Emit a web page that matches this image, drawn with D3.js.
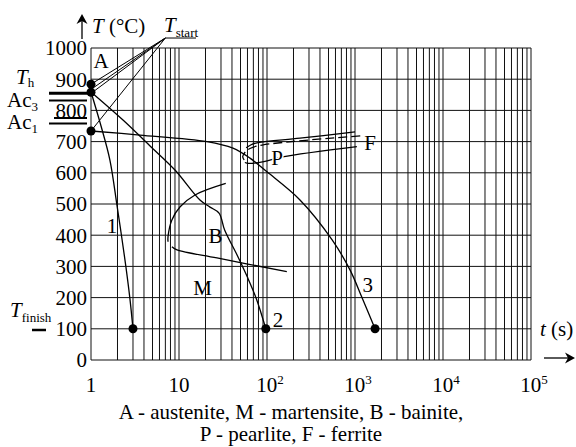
<!DOCTYPE html>
<html><head><meta charset="utf-8">
<script src="https://cdn.jsdelivr.net/npm/d3@7"></script>
<style>
body{margin:0;background:#fff}
svg{display:block}
text{font-family:"Liberation Serif","Times New Roman",serif;fill:#000}
</style>
</head><body>
<svg id="chart" width="576" height="447"></svg>
<script>
// CCT diagram: time t (s, log scale) vs temperature T (°C)
const tTicks = [1, 10, 100, 1000, 10000, 100000];
const tTickExp = ["", "", "2", "3", "4", "5"];
const tempTicks = [0, 100, 200, 300, 400, 500, 600, 700, 800, 900, 1000];

// cooling curves [t, T]
const curve1 = [[1,859],[1.3,750],[1.64,641],[1.97,497],[2.23,395],[2.5,296],[2.77,196],[3.0,100]];
const curve2 = [[1,859],[2.31,769],[4.69,686],[9.0,609],[17.3,513],[22.5,490],[28.5,471],[33,417],[46,335],[60,265],[76,195],[97,100]];
const curve3 = [[1,734],[3.6,721],[20.8,700],[41,679],[64,647],[100,603],[237,513],[550,385],[880,288],[1200,200],[1690,100]];

// transformation lines
const bainiteStart = [[34,566],[15.2,529],[10.3,491],[8.3,449],[7.5,395],[7.5,379]];
const martensiteLine = [[8.3,363],[9.5,353],[27,327],[168,283]];
const pearliteStart = [[58,680],[66,690],[79,697],[237,711],[1000,731]];
const ferriteStart = [[55,641],[53,652],[56,665],[64,678],[88,689],[1230,719]];
const pearliteFinish = [[56,633],[62,630],[92,636],[150,651],[1050,684]];

// start / finish points
const dots = [[1,884],[1,858],[1,734],[3,100],[97,100],[1690,100]];
// leader lines from the T_start label
const leaderFrom = [7.0, 1032];
const leaderTo = [[1,884],[1.02,869],[1.04,858],[1,734]];
// reference temperature marks at the left of the axis
const refMarks = [{T:855, w:3}, {T:832, w:2}, {T:776, w:2}, {T:758, w:2}];

// region and curve labels [text, t, T]
const regionLabels = [["A",1.3,936],["1",1.73,407],["B",26,375],["M",18.5,208],["P",130,625],["F",1480,673],["2",133,106],["3",1400,218]];

const captionLines = ["A - austenite, M - martensite, B - bainite,", "P - pearlite, F - ferrite"];

const svg = d3.select("#chart");
const x = d3.scaleLog().domain([1, 1e5]).range([91, 531]);
const y = d3.scaleLinear().domain([0, 1000]).range([360, 48]);

// grid
const g = svg.append("g");
g.selectAll("line.v").data(x.ticks()).join("line")
  .attr("x1", d => x(d)).attr("x2", d => x(d))
  .attr("y1", y(0)).attr("y2", y(1000))
  .attr("stroke", "#111").attr("stroke-width", 1);
g.selectAll("line.h").data(tempTicks).join("line")
  .attr("x1", x(1)).attr("x2", x(1e5))
  .attr("y1", d => y(d)).attr("y2", d => y(d))
  .attr("stroke", "#111").attr("stroke-width", 1);

// axes tick labels
svg.append("g").selectAll("text").data(tempTicks).join("text")
  .attr("x", 87).attr("y", d => y(d)).attr("dy", "0.35em")
  .attr("text-anchor", "end").attr("font-size", 21).text(d => d);

const xl = svg.append("g").selectAll("text").data(tTicks).join("text")
  .attr("x", (d, i) => x(d) + (tTickExp[i] ? 3 : 0)).attr("y", 392)
  .attr("text-anchor", "middle").attr("font-size", 21);
xl.append("tspan").text(d => d === 1 ? "1" : "10");
xl.append("tspan").attr("dy", -8).attr("font-size", 13).text((d, i) => tTickExp[i]);

// axis titles and arrows
const arrowHead = (px, py, dir) => {
  // filled arrow head pointing up (dir='up') or right
  if (dir === "up") return `M${px},${py} L${px-5.5},${py+10} L${px},${py+7} L${px+5.5},${py+10} Z`;
  return `M${px},${py} L${px-10},${py-5.5} L${px-7},${py} L${px-10},${py+5.5} Z`;
};
svg.append("line").attr("x1", 82).attr("x2", 82).attr("y1", 39).attr("y2", 18).attr("stroke", "#000").attr("stroke-width", 1.3);
svg.append("path").attr("d", arrowHead(82, 14, "up")).attr("fill", "#000");
const yt = svg.append("text").attr("x", 92).attr("y", 33).attr("font-size", 21);
yt.append("tspan").attr("font-style", "italic").text("T");
yt.append("tspan").text(" (°C)");

svg.append("line").attr("x1", 544).attr("x2", 570).attr("y1", 358).attr("y2", 358).attr("stroke", "#000").attr("stroke-width", 1.3);
svg.append("path").attr("d", arrowHead(575, 358, "right")).attr("fill", "#000");
const xt = svg.append("text").attr("x", 540).attr("y", 336).attr("font-size", 21);
xt.append("tspan").attr("font-style", "italic").text("t");
xt.append("tspan").text(" (s)");

// curves
const line = d3.line().x(d => x(d[0])).y(d => y(d[1])).curve(d3.curveCatmullRom.alpha(0.5));
const curves = svg.append("g").attr("fill", "none").attr("stroke", "#000").attr("stroke-width", 1.3);
[curve1, curve2, curve3, bainiteStart, martensiteLine, pearliteStart, pearliteFinish].forEach(c =>
  curves.append("path").attr("d", line(c)));
curves.append("path").attr("d", line(ferriteStart)).attr("stroke-dasharray", "9,4");

// leader lines
svg.append("g").selectAll("line").data(leaderTo).join("line")
  .attr("x1", x(leaderFrom[0])).attr("y1", y(leaderFrom[1]))
  .attr("x2", d => x(d[0])).attr("y2", d => y(d[1]))
  .attr("stroke", "#000").attr("stroke-width", 1);
svg.append("line").attr("x1", x(leaderFrom[0])).attr("x2", 196)
  .attr("y1", y(leaderFrom[1])).attr("y2", y(leaderFrom[1])).attr("stroke", "#000").attr("stroke-width", 1);

// reference marks left of axis
svg.append("g").selectAll("line").data(refMarks).join("line")
  .attr("x1", (d, i) => i === 2 ? 54 : 49).attr("x2", (d, i) => i === 0 ? 90 : 87)
  .attr("y1", d => y(d.T)).attr("y2", d => y(d.T))
  .attr("stroke", "#000").attr("stroke-width", d => d.w);
svg.append("line").attr("x1", 32).attr("x2", 46).attr("y1", 330).attr("y2", 330).attr("stroke", "#000").attr("stroke-width", 2.5);

// dots
svg.append("g").selectAll("circle").data(dots).join("circle")
  .attr("cx", d => x(d[0])).attr("cy", d => y(d[1])).attr("r", 4.5).attr("fill", "#000");

// labels with subscripts
function subLabel(px, py, main, sub, italic, subDy) {
  const t = svg.append("text").attr("x", px).attr("y", py).attr("font-size", 21);
  t.append("tspan").attr("font-style", italic ? "italic" : "normal").text(main);
  t.append("tspan").attr("dy", subDy).attr("font-size", 13).text(sub);
}
subLabel(16, 84, "T", "h", true, 3);
subLabel(7, 107, "Ac", "3", false, 4);
subLabel(7, 129, "Ac", "1", false, 4);
subLabel(10, 317, "T", "finish", true, 5);
subLabel(164, 32, "T", "start", true, 5);

// region labels
svg.append("g").selectAll("text").data(regionLabels).join("text")
  .attr("x", d => x(d[1])).attr("y", d => y(d[2])).attr("text-anchor", "middle")
  .attr("font-size", 21)
  .attr("stroke", d => d[0] === "P" ? "#fff" : "none").attr("stroke-width", 3)
  .attr("paint-order", "stroke")
  .text(d => d[0]);

// caption
svg.append("g").selectAll("text").data(captionLines).join("text")
  .attr("x", 291).attr("y", (d, i) => 419 + i * 22).attr("text-anchor", "middle")
  .attr("font-size", 21).text(d => d);
</script>
</body></html>
